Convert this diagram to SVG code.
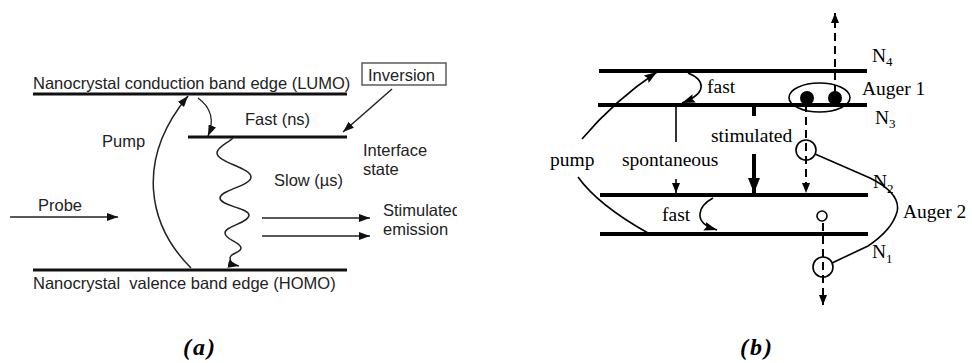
<svg xmlns="http://www.w3.org/2000/svg" width="972" height="363" viewBox="0 0 972 363">
<style>
.sa{font-family:"Liberation Sans",Arial,sans-serif;font-size:16.5px;fill:#222}
.sb{font-family:"Liberation Serif","Times New Roman",serif;font-size:19.5px;fill:#000}
.sub{font-size:13px}
.cap{font-family:"Liberation Serif","Times New Roman",serif;font-size:24px;font-weight:bold;font-style:italic;letter-spacing:2px}
.lv{stroke:#111;stroke-width:3;fill:none}
.lvb{stroke:#000;stroke-width:4;fill:none}
.th{stroke:#222;stroke-width:1.5;fill:none}
.tb{stroke:#000;stroke-width:1.6;fill:none}
.ds{stroke:#000;stroke-width:2;fill:none;stroke-dasharray:8 5}
</style>
<defs>
<marker id="ma" markerUnits="userSpaceOnUse" markerWidth="11" markerHeight="8" refX="11" refY="4" orient="auto"><path d="M0,0 L11,4 L0,8 z" fill="#111"/></marker>
<marker id="mb" markerUnits="userSpaceOnUse" markerWidth="13" markerHeight="9" refX="13" refY="4.5" orient="auto"><path d="M0,0 L13,4.5 L0,9 L2,4.5 z" fill="#000"/></marker>
<marker id="mbig" markerUnits="userSpaceOnUse" markerWidth="15" markerHeight="12" refX="15" refY="6" orient="auto"><path d="M0,0 L15,6 L0,12 z" fill="#000"/></marker>
<marker id="ms" markerUnits="userSpaceOnUse" markerWidth="10" markerHeight="8" refX="10" refY="4" orient="auto"><path d="M0,0 L10,4 L0,8 z" fill="#000"/></marker>
<clipPath id="clipA"><rect x="0" y="0" width="457" height="363"/></clipPath>
</defs>
<rect width="972" height="363" fill="#fff"/>

<!-- Panel (a) -->
<g id="lumo">
<line class="lv" x1="33" y1="94" x2="347" y2="94"/>
<text class="sa" x="33" y="89">Nanocrystal conduction band edge (LUMO)</text>
</g>
<g id="interface">
<line class="lv" x1="188" y1="137" x2="347" y2="137"/>
<text class="sa" x="363" y="156">Interface</text>
<text class="sa" x="363" y="175">state</text>
</g>
<g id="homo">
<line class="lv" x1="33" y1="270" x2="347" y2="270"/>
<text class="sa" x="33" y="289" xml:space="preserve">Nanocrystal  valence band edge (HOMO)</text>
</g>
<g id="inversion">
<rect x="362" y="63" width="84" height="22" fill="#fff" stroke="#333" stroke-width="1.2"/>
<text class="sa" x="368" y="81">Inversion</text>
</g>
<g id="labels-a">
<text class="sa" x="245" y="125">Fast (ns)</text>
<text class="sa" x="102" y="147">Pump</text>
<text class="sa" x="274" y="186">Slow (µs)</text>
<text class="sa" x="38" y="211">Probe</text>
<g clip-path="url(#clipA)">
<text class="sa" x="383" y="216">Stimulated</text>
<text class="sa" x="383" y="235">emission</text>
</g>
<text class="cap" x="183" y="355">(a)</text>
</g>
<g id="connectors-a">
<path class="th" d="M392,89 L343,132" marker-end="url(#ma)"/>
<path class="th" d="M198,98 C212,108 214,122 208,136" marker-end="url(#ma)"/>
<path class="th" d="M191,268 C148,225 135,160 188,96" marker-end="url(#ma)"/>
<path class="th" d="M233,138 C228,143 217,147 217,153 C217,162 251,168 251,177 C251,186 220,190 220,198 C220,206 249,208 249,215 C249,223 225,226 225,233 C225,240 241,242 241,248 C241,253 230,253 230,258 C230,263 234,265 239,266" marker-end="url(#ma)"/>
<path class="th" d="M10,217 L118,217" marker-end="url(#ma)"/>
<path class="th" d="M262,218 L370,218" marker-end="url(#ma)"/>
<path class="th" d="M262,236 L370,236" marker-end="url(#ma)"/>
</g>

<!-- Panel (b) -->
<g id="N4">
<line class="lvb" x1="599" y1="71" x2="867" y2="71"/>
<text class="sb" x="872" y="62">N<tspan class="sub" dy="4">4</tspan></text>
</g>
<g id="N3">
<line class="lvb" x1="598" y1="105" x2="867" y2="105"/>
<text class="sb" x="875" y="124">N<tspan class="sub" dy="4">3</tspan></text>
</g>
<g id="N2">
<line class="lvb" x1="600" y1="195" x2="868" y2="195"/>
<text class="sb" x="873" y="188">N<tspan class="sub" dy="5">2</tspan></text>
</g>
<g id="N1">
<line class="lvb" x1="600" y1="234" x2="868" y2="234"/>
<text class="sb" x="872" y="258">N<tspan class="sub" dy="5">1</tspan></text>
</g>
<g id="auger1">
<ellipse class="tb" cx="819.5" cy="97.5" rx="30.5" ry="14.5"/>
<circle cx="807" cy="98" r="7" fill="#000"/>
<circle cx="835" cy="98" r="7" fill="#000"/>
<text class="sb" x="862" y="95">Auger 1</text>
</g>
<g id="auger2">
<circle class="tb" cx="806" cy="150" r="10"/>
<circle class="tb" cx="822" cy="216" r="5"/>
<circle class="tb" cx="823" cy="267" r="10"/>
<text class="sb" x="903" y="218">Auger 2</text>
</g>
<g id="labels-b">
<text class="sb" x="707" y="93">fast</text>
<text class="sb" x="662" y="221">fast</text>
<text class="sb" x="711" y="142">stimulated</text>
<text class="sb" x="622" y="166">spontaneous</text>
<text class="sb" x="550" y="166">pump</text>
<text class="cap" x="740" y="355">(b)</text>
</g>
<g id="connectors-b">
<path class="tb" d="M582,139 Q615,100 657,72" marker-end="url(#mb)"/>
<path class="tb" d="M578,177 Q598,205 648,233"/>
<path class="tb" d="M688,73 C705,80 708,93 682,103" marker-end="url(#mb)"/>
<path class="tb" d="M713,198 C700,205 690,222 717,230" marker-end="url(#mb)"/>
<path class="tb" d="M676,107 L676,142"/>
<path class="tb" d="M676,179 L676,193" marker-end="url(#ms)"/>
<path stroke="#000" stroke-width="4" d="M754,107 L754,116"/>
<path stroke="#000" stroke-width="4" d="M754,154 L754,193" marker-end="url(#mbig)"/>
<path class="ds" d="M806,104 L806,193" marker-end="url(#ms)"/>
<path class="ds" d="M835,93 L835,13" marker-end="url(#ms)"/>
<path class="ds" d="M823,223 L823,305" marker-end="url(#ms)"/>
<path class="tb" d="M815,154 L870,178 C890,188 900,200 897,212 C893,226 880,238 868,246 L832,263"/>
</g>
</svg>
